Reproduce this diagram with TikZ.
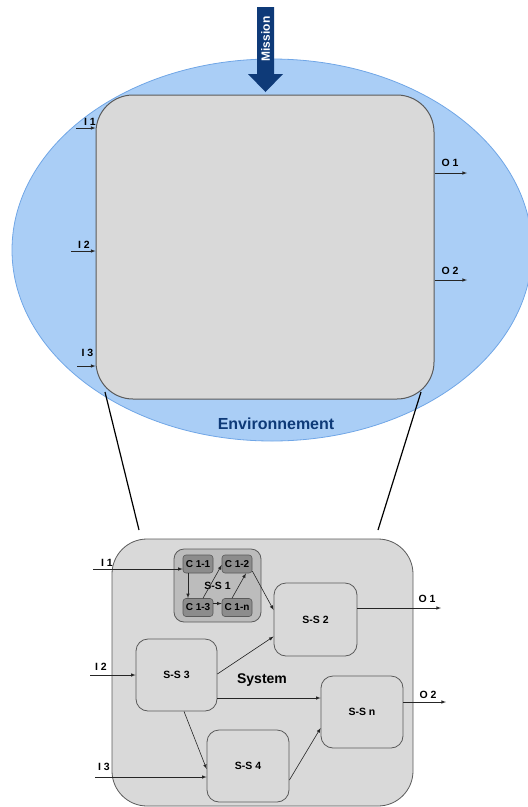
\documentclass[tikz,border=0pt]{standalone}
\usepackage{fontspec}
\setmainfont{Liberation Sans}
\usetikzlibrary{shapes.geometric}

\definecolor{envblue}{RGB}{170,206,246}
\definecolor{envline}{RGB}{112,166,230}
\definecolor{navy}{RGB}{14,58,120}
\definecolor{boxgray}{RGB}{217,217,217}
\definecolor{midgray}{RGB}{188,188,188}
\definecolor{compgray}{RGB}{140,140,140}
\definecolor{edgegray}{RGB}{90,90,90}

\tikzset{
	sysbox/.style={draw=edgegray, line width=0.8pt, fill=boxgray, rounded corners=12pt, inner sep=0pt, font=\bfseries\fontsize{10.5}{12}\selectfont},
	compbox/.style={draw=edgegray, line width=0.6pt, fill=compgray, rounded corners=3pt, minimum width=30pt, minimum height=18pt, inner sep=0pt, font=\bfseries\fontsize{10}{11}\selectfont},
	flow/.style={->, >=latex, line width=0.6pt, black!85},
	iolabel/.style={font=\bfseries\fontsize{10.5}{12}\selectfont, inner sep=0pt},
}

\begin{document}
\begin{tikzpicture}[x=1pt, y=-1pt]
			%%%%% START %%%%%
			\useasboundingbox (0,0) rectangle (528,807);
			
			% environment with the system seen from outside
			\node[ellipse, draw=envline, line width=0.8pt, fill=envblue, minimum width=520pt, minimum height=382pt, inner sep=0pt] (env) at (272,250) {};
			\node[sysbox, rounded corners=37pt, minimum width=338pt, minimum height=304pt, line width=1pt] (top) at (265,247) {};
			\node[font=\bfseries\fontsize{16}{18}\selectfont, text=navy] (envlabel) at (276,423.5) {Environnement};
			
			% mission
			\fill[navy] (257,7) -- (274,7) -- (274,74) -- (283,74) -- (265.5,92) -- (248,74) -- (257,74) -- cycle;
			\node[rotate=90, text=white, font=\bfseries\fontsize{12}{14}\selectfont, inner sep=0pt] (mission) at (265.5,39) {Mission};
			
			% inputs and outputs, top
			\coordinate (ti1) at (76,128);
			\coordinate (ti2) at (71,251);
			\coordinate (ti3) at (77,366);
			\coordinate (to1) at (467,173);
			\coordinate (to2) at (467,280);
			\draw[flow] (ti1) -- (top.west |- ti1);
			\draw[flow] (ti2) -- (top.west |- ti2);
			\draw[flow] (ti3) -- (top.west |- ti3);
			\draw[flow] (top.east |- to1) -- (to1);
			\draw[flow] (top.east |- to2) -- (to2);
			\node[iolabel] (tl1) at (90,122) {I 1};
			\node[iolabel] (tl2) at (84,244.5) {I 2};
			\node[iolabel] (tl3) at (87.5,353) {I 3};
			\node[iolabel] (tlo1) at (450,163) {O 1};
			\node[iolabel] (tlo2) at (450,271) {O 2};
			
			% zoom lines
			\coordinate (zl1) at (105,392);
			\coordinate (zl2) at (139,530);
			\coordinate (zr1) at (421,392);
			\coordinate (zr2) at (378,530);
			\draw[line width=1.2pt] (zl1) -- (zl2);
			\draw[line width=1.2pt] (zr1) -- (zr2);
			
			% system seen from inside
			\node[sysbox, rounded corners=35pt, minimum width=301pt, minimum height=267pt] (sys) at (262.5,672.5) {};
			\node[font=\bfseries\fontsize{14}{16}\selectfont] (syslabel) at (262,680) {System};
			
			\node[sysbox, fill=midgray, rounded corners=10pt, minimum width=87pt, minimum height=73pt] (ss1) at (217.5,585.5) {S-S 1};
			\node[compbox] (c11) at (198,564) {C 1-1};
			\node[compbox] (c12) at (237,564) {C 1-2};
			\node[compbox] (c13) at (198,607.5) {C 1-3};
			\node[compbox] (c1n) at (237,607.5) {C 1-n};
			
			\node[sysbox, minimum width=83pt, minimum height=73pt] (ss2) at (315.5,619.5) {S-S 2};
			\node[sysbox, minimum width=81pt, minimum height=72pt] (ss3) at (176.5,675) {S-S 3};
			\node[sysbox, minimum width=82pt, minimum height=72pt] (ssn) at (362,712) {S-S n};
			\node[sysbox, minimum width=82pt, minimum height=72pt] (ss4) at (248,766) {S-S 4};
			
			% flows inside
			\draw[flow] ([xshift=-10pt]c11.south) -- ([xshift=-10pt]c13.north);
			\draw[flow] ([yshift=4pt]c13.east) -- ([yshift=4pt]c1n.west);
			\draw[flow] ([xshift=5pt]c13.north) -- ([yshift=-1pt]c12.west);
			\draw[flow] ([xshift=-5pt]c1n.north) -- ([xshift=9pt]c12.south);
			\draw[flow] ([yshift=-7pt]c12.east) -- ([yshift=9.5pt]ss2.west);
			\draw[flow] ([yshift=1pt]ss3.east) -- ([yshift=-17pt]ss2.west);
			\draw[flow] ([yshift=-23pt]ss3.east) -- ([yshift=-23pt]ss3.east -| ssn.west);
			\draw[flow] ([xshift=7.5pt]ss3.south) -- ([yshift=-3pt]ss4.west);
			\draw[flow] ([yshift=-14pt]ss4.east) -- ([yshift=-16pt]ssn.west);
			
			% inputs and outputs, bottom
			\coordinate (bi1) at (93,569);
			\coordinate (bi2) at (90,675);
			\coordinate (bi3) at (95,777);
			\coordinate (bo1) at (441,608);
			\coordinate (bo2) at (446,702);
			\draw[flow] (bi1) -- (c11.west |- bi1);
			\draw[flow] (bi2) -- (ss3.west |- bi2);
			\draw[flow] (bi3) -- (ss4.west |- bi3);
			\draw[flow] (ss2.east |- bo1) -- (bo1);
			\draw[flow] (ssn.east |- bo2) -- (bo2);
			\node[iolabel] (bl1) at (107,562.5) {I 1};
			\node[iolabel] (bl2) at (101,667) {I 2};
			\node[iolabel] (bl3) at (104,766.5) {I 3};
			\node[iolabel] (blo1) at (427,599) {O 1};
			\node[iolabel] (blo2) at (428,694.5) {O 2};
			
			%%%%% END %%%%%
\end{tikzpicture}
\end{document}
